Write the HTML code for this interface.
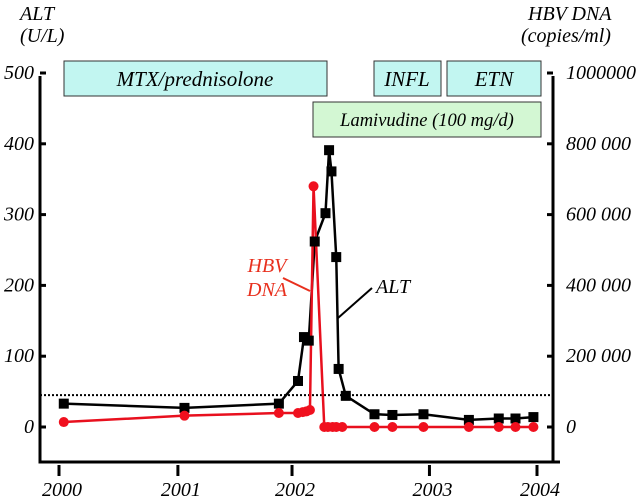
<!DOCTYPE html>
<html><head><meta charset="utf-8"><style>
body{margin:0;background:#fff}
svg text{font-family:"Liberation Serif",serif;font-style:italic}
</style></head><body>
<svg id="c" width="640" height="497" xmlns="http://www.w3.org/2000/svg">
<text x="20" y="20" font-size="20">ALT</text>
<text x="20" y="42" font-size="20">(U/L)</text>
<text x="528" y="20" font-size="20">HBV DNA</text>
<text x="521" y="42" font-size="20">(copies/ml)</text>
<g><rect x="64" y="61" width="263" height="35" fill="#c2f6f1" stroke="#333"/><text x="195" y="86" font-size="21" text-anchor="middle">MTX/prednisolone</text></g>
<g><rect x="374" y="61" width="67" height="35" fill="#c2f6f1" stroke="#333"/><text x="407" y="86" font-size="21" text-anchor="middle">INFL</text></g>
<g><rect x="447" y="61" width="94" height="35" fill="#c2f6f1" stroke="#333"/><text x="494" y="86" font-size="21" text-anchor="middle">ETN</text></g>
<g><rect x="313" y="102" width="228" height="35" fill="#d3f7d3" stroke="#333"/><text x="427" y="126" font-size="18.5" text-anchor="middle">Lamivudine (100 mg/d)</text></g>
<g id="axes"></g><g id="marks"></g>
<text x="267" y="272" font-size="20" fill="#e8301e" text-anchor="middle">HBV</text>
<text x="267" y="296" font-size="20" fill="#e8301e" text-anchor="middle">DNA</text>
<line x1="283" y1="278" x2="310" y2="291" stroke="#e8301e" stroke-width="2"/>
<text x="376" y="293" font-size="20">ALT</text>
<line x1="372" y1="288" x2="338" y2="318" stroke="#000" stroke-width="2"/>
</svg>
<script>
const altX=[2000.04,2001.05,2001.84,2002.0,2002.05,2002.09,2002.14,2002.23,2002.26,2002.28,2002.32,2002.34,2002.40,2002.64,2002.79,2003.05,2003.43,2003.68,2003.82,2003.97];
const altY=[33,27,33,65,127,122,262,302,391,361,240,82,44,18,17,18,10,12,12,14];
const hbvX=[2000.04,2001.05,2001.84,2002.0,2002.04,2002.07,2002.10,2002.13,2002.22,2002.25,2002.29,2002.32,2002.37,2002.64,2002.79,2003.05,2003.43,2003.68,2003.82,2003.97];
const hbvY=[14000,32000,39500,39500,42000,44000,48000,680000,0,0,0,0,0,0,0,0,0,0,0,0];
const xTickVals=[2000,2000.995,2001.95,2003.1,2004];
const xTickLabels=["2000","2001","2002","2003","2004"];
const yTicks=[0,100,200,300,400,500];
const yTickLabels=["0","100","200","300","400","500"];
const y2Ticks=[0,200000,400000,600000,800000,1000000];
const y2TickLabels=["0","200 000","400 000","600 000","800 000","1000000"];
const normalALT=45;
const NS="http://www.w3.org/2000/svg";
const sx=v=>59+(v-2000)*119.5;
const sy=v=>427-v*0.708;
const sy2=v=>427-v/2000*0.708;
function mk(p,t,a){const e=document.createElementNS(NS,t);for(const k in a)e.setAttribute(k,a[k]);p.appendChild(e);return e;}
const ax=document.getElementById('axes'),mg=document.getElementById('marks');
let e=mk(ax,'path',{d:'M40 76 V462 H560 M553 76 V462',stroke:'#000','stroke-width':3,fill:'none'});

yTicks.forEach((v,i)=>{
 let t=mk(ax,'line',{x1:40,x2:46,y1:sy(v),y2:sy(v),stroke:'#000','stroke-width':3});
 
 let l=mk(ax,'text',{x:34,y:sy(v)+6,'font-size':20,'text-anchor':'end'});l.textContent=yTickLabels[i];
 
});
y2Ticks.forEach((v,i)=>{
 let t=mk(ax,'line',{x1:547,x2:553,y1:sy2(v),y2:sy2(v),stroke:'#000','stroke-width':3});
 
 let l=mk(ax,'text',{x:566,y:sy2(v)+6,'font-size':20});l.textContent=y2TickLabels[i];
 
});
xTickVals.forEach((v,i)=>{
 let t=mk(ax,'line',{x1:sx(v),x2:sx(v),y1:465,y2:476,stroke:'#000','stroke-width':3});
 
 let l=mk(ax,'text',{x:sx(v)+3,y:496,'font-size':20,'text-anchor':'middle'});l.textContent=xTickLabels[i];
 
});
e=mk(ax,'line',{x1:40,x2:553,y1:sy(normalALT),y2:sy(normalALT),stroke:'#000','stroke-width':2,'stroke-dasharray':'2,2'});

e=mk(mg,'polyline',{points:altX.map((x,i)=>sx(x)+','+sy(altY[i])).join(' '),fill:'none',stroke:'#000','stroke-width':2.5});

e=mk(mg,'polyline',{points:hbvX.map((x,i)=>sx(x)+','+sy2(hbvY[i])).join(' '),fill:'none',stroke:'#e8101e','stroke-width':2.5});

altX.forEach((x,i)=>{
 let r=mk(mg,'rect',{x:sx(x)-5,y:sy(altY[i])-5,width:10,height:10,fill:'#000'});
 
});
hbvX.forEach((x,i)=>{
 let c=mk(mg,'circle',{cx:sx(x),cy:sy2(hbvY[i]),r:5,fill:'#f0101e'});
 
});
</script>
</body></html>
